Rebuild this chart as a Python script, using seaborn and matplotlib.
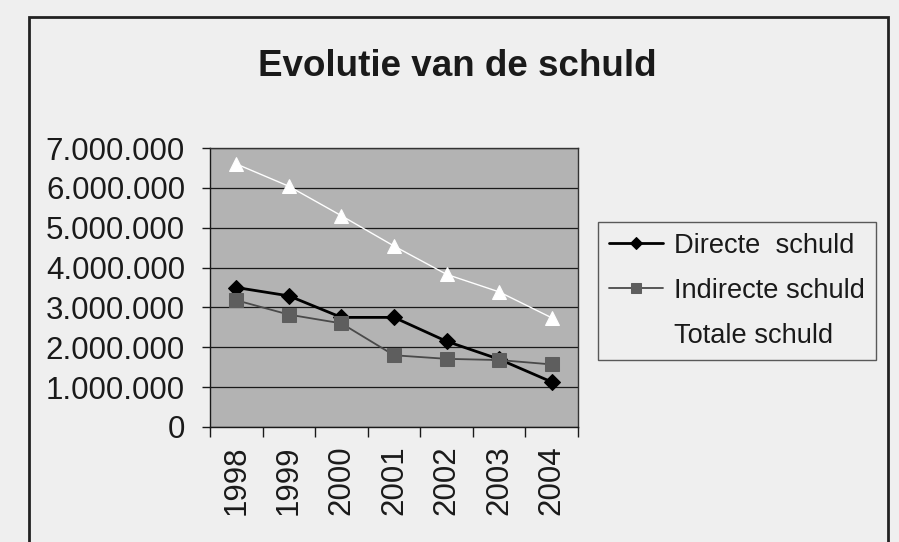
import matplotlib
matplotlib.use("Agg")
import matplotlib.pyplot as plt
import matplotlib.ticker as mticker
from matplotlib.patches import Rectangle
import seaborn as sns
import pandas as pd

years = ["1998", "1999", "2000", "2001", "2002", "2003", "2004"]
directe = [3500000, 3290000, 2750000, 2750000, 2150000, 1700000, 1130000]
indirecte = [3180000, 2820000, 2600000, 1800000, 1710000, 1680000, 1570000]
totale = [6600000, 6040000, 5300000, 4540000, 3830000, 3390000, 2740000]
series_names = ["Directe  schuld", "Indirecte schuld", "Totale schuld"]

df = pd.DataFrame({
    "jaar": years * 3,
    "waarde": directe + indirecte + totale,
    "reeks": [series_names[0]] * 7 + [series_names[1]] * 7 + [series_names[2]] * 7,
})

sns.set_theme(style="white")
plt.rcParams["font.family"] = ["Liberation Sans", "DejaVu Sans"]

paper = "#efefef"
fig = plt.figure(figsize=(8.99, 5.42), dpi=100, facecolor=paper)
ax = fig.add_axes([210 / 899, 1 - 427 / 542, 368 / 899, 279 / 542])
ax.set_facecolor("#b3b3b3")

palette = {series_names[0]: "#000000", series_names[1]: "#4a4a4a", series_names[2]: "#ffffff"}
markers = {series_names[0]: "D", series_names[1]: "s", series_names[2]: "^"}
widths = {series_names[0]: 2.0, series_names[1]: 1.3, series_names[2]: 1.0}

for name in series_names:
    sub = df[df["reeks"] == name]
    col = palette[name]
    mfc = "#5e5e5e" if name == series_names[1] else col
    sns.lineplot(data=sub, x="jaar", y="waarde", ax=ax, color=col, lw=widths[name],
                 marker=markers[name], markersize=10 if name != series_names[0] else 8,
                 markerfacecolor=mfc, markeredgecolor=mfc, label=name, legend=False,
                 zorder=3)

ax.set_xlim(-0.5, len(years) - 0.5)
ax.set_ylim(0, 7000000)
ax.yaxis.set_major_locator(mticker.MultipleLocator(1000000))
ax.yaxis.set_major_formatter(mticker.FuncFormatter(lambda v, p: f"{int(v):,}".replace(",", ".")))
ax.grid(axis="y", color="#1a1a1a", lw=0.9)
ax.grid(axis="x", visible=False)
ax.set_axisbelow(True)

ax.set_xticks(range(len(years)))
ax.set_xticklabels(years, rotation=90)
ax.set_xticks([i - 0.5 for i in range(len(years) + 1)], minor=True)
ax.tick_params(axis="x", which="major", length=0, pad=13, labelsize=22.5, colors="#1a1a1a")
ax.tick_params(axis="x", which="minor", length=7, width=1, direction="out", color="#1a1a1a", bottom=True)
ax.tick_params(axis="y", which="major", length=6, width=1, direction="out", pad=12,
               labelsize=22.5, colors="#1a1a1a", left=True)
ax.set_xlabel("")
ax.set_ylabel("")
for s in ax.spines.values():
    s.set_color("#333333")
    s.set_linewidth(1.0)
ax.spines["left"].set_color("#1a1a1a")
ax.spines["bottom"].set_color("#1a1a1a")

fig.text(457 / 899, 1 - 66 / 542, "Evolutie van de schuld", ha="center", va="center",
         fontsize=26.5, fontweight="bold", color="#1a1a1a")

handles, labels = ax.get_legend_handles_labels()
leg = fig.legend(handles, labels, loc="upper left", bbox_to_anchor=(598 / 899, 1 - 222 / 542),
                 fontsize=19.6, frameon=True, fancybox=False, facecolor=paper, edgecolor="#333333",
                 handlelength=2.0, handletextpad=0.4, labelspacing=0.7, borderpad=0.4,
                 borderaxespad=0, markerscale=0.75)
leg.get_frame().set_linewidth(1.0)
for t in leg.get_texts():
    t.set_color("#1a1a1a")
leg.legend_handles[2].set_visible(False)

fig.add_artist(Rectangle((29 / 899, -0.01), (888 - 29) / 899, 1 - 17 / 542 + 0.01,
                         transform=fig.transFigure, fill=False, edgecolor="#222222", lw=2))

fig.savefig("out.png", dpi=100, facecolor=paper)
